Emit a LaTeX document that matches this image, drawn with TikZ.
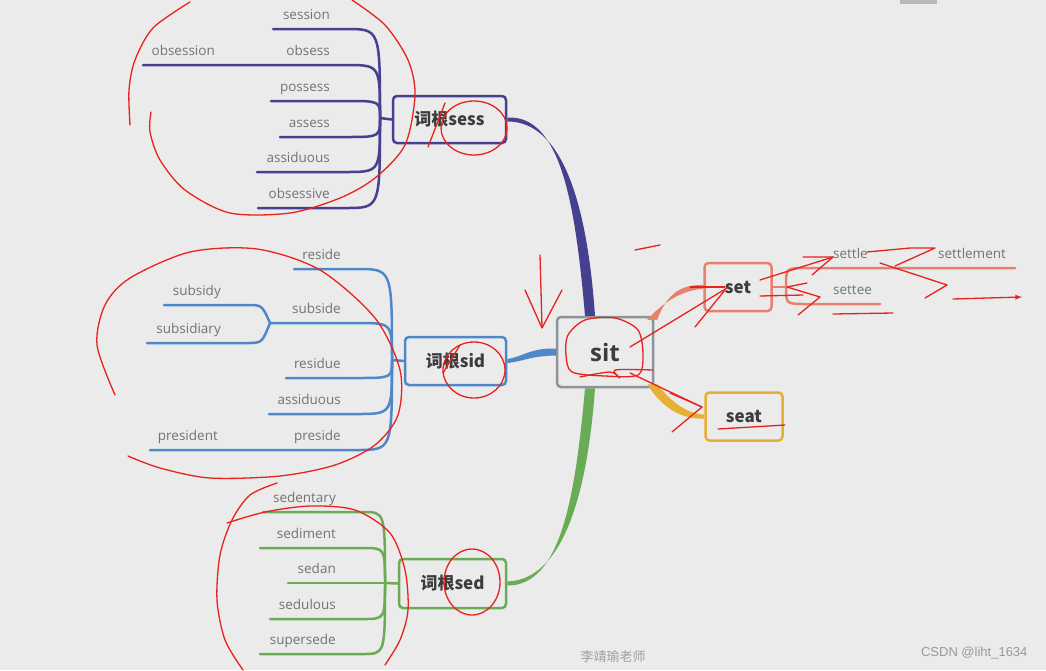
\documentclass[tikz,border=0pt]{standalone}
\usepackage{fontspec}
\setmainfont{Open Sans}
\newfontfamily\cjk{Noto Sans CJK SC}
\newfontfamily\arial{Liberation Sans}
\definecolor{nen}{HTML}{EBEBEB}
\definecolor{chu}{HTML}{3C3C3C}
\definecolor{xam}{HTML}{737373}
\definecolor{vien}{HTML}{8C939B}
\definecolor{tim}{HTML}{45408F}
\definecolor{lam}{HTML}{4F88C9}
\definecolor{luc}{HTML}{6AAC55}
\definecolor{cam}{HTML}{E8806E}
\definecolor{vang}{HTML}{E6B035}
\definecolor{but}{HTML}{E8221C}

\begin{document}
\begin{tikzpicture}[x=1pt, y=-1pt, >=latex,
    hop/.style={draw, line width=2.5pt, rounded corners=4pt, fill=nen, inner sep=0pt,
        text=chu, font=\cjk\bfseries\fontsize{17}{20}\selectfont},
    nhan/.style={text=xam, inner sep=1pt, font=\fontsize{13.5}{15}\selectfont},
    nhanh/.style={line width=2.5pt, line cap=round},
    net/.style={but, line width=1.3pt, line cap=round, line join=round}]
    % Nền
    \fill[nen] (0,0) rectangle (1046,670);
    \useasboundingbox (0,0) rectangle (1046,670);
    \fill[gray!55] (900,0) rectangle (937,4);

    % Các nút chính
    \node[hop, draw=vien, minimum width=96pt, minimum height=70pt,
        font=\bfseries\fontsize{24}{28}\selectfont] (sit) at (605,352) {sit};
    \node[hop, draw=tim, minimum width=113pt, minimum height=47pt] (sess) at (449.5,119.5) {词根sess};
    \node[hop, draw=lam, minimum width=101pt, minimum height=48pt] (sid) at (455.5,361) {词根sid};
    \node[hop, draw=luc, minimum width=107pt, minimum height=49pt] (sed) at (452.5,583.5) {词根sed};
    \node[hop, draw=cam, minimum width=67pt, minimum height=48pt] (set) at (738,287) {set};
    \node[hop, draw=vang, minimum width=77pt, minimum height=48pt] (seat) at (744,416.5) {seat};

    % Nhánh từ sit (nét thon dần)
    \fill[tim] ([xshift=-20pt]sit.north) .. controls (575,200) and (560,115) .. ([yshift=2pt]sess.east)
        -- ([yshift=-2pt]sess.east) .. controls (561,121) and (587,200) .. ([xshift=-10pt]sit.north) -- cycle;
    \fill[luc] ([xshift=-20pt]sit.south) .. controls (575,500) and (560,586) .. ([yshift=-2pt]sed.east)
        -- ([yshift=2pt]sed.east) .. controls (561,580) and (587,500) .. ([xshift=-10pt]sit.south) -- cycle;
    \fill[lam] ([yshift=3.5pt]sit.west) .. controls (530,348) and (525,356) .. ([yshift=2pt]sid.east)
        -- ([yshift=-2pt]sid.east) .. controls (525,361) and (530,356) .. ([yshift=-3.5pt]sit.west) -- cycle;
    \fill[cam] ([xshift=3pt,yshift=-4pt]sit.north east) .. controls (668,290) and (685,284.5) .. ([yshift=2pt]set.west)
        -- ([yshift=-2pt]set.west) .. controls (686,289.5) and (666,299) .. ([xshift=-7pt,yshift=-4pt]sit.north east) -- cycle;
    \fill[vang] ([xshift=-7pt,yshift=4pt]sit.south east) .. controls (664,411) and (685,419.5) .. ([yshift=-2pt]seat.west)
        -- ([yshift=2pt]seat.west) .. controls (688,414) and (672,403) .. ([xshift=3pt,yshift=4pt]sit.south east) -- cycle;

    % Gốc sess
    \coordinate (hsess) at (380,118);
    \draw[nhanh, tim] (sess.west) -- (hsess);
    \foreach \ten/\y/\x in {session/29/273, obsess/65/143, possess/101/271,
        assess/137/280, assiduous/172/257, obsessive/208/258} {
        \node[nhan, anchor=base east] (sess-\ten) at (331,\y-10) {\ten};
        \draw[nhanh, tim] (hsess) .. controls (380,\y) .. (346,\y) -- (\x,\y) coordinate (sess-\ten-e);
    }
    \node[nhan, anchor=base east] (obsession) at (216,55) {obsession};

    % Gốc sid
    \coordinate (hsid) at (392,360);
    \draw[nhanh, lam] (sid.west) -- (hsid);
    \foreach \ten/\y/\x in {reside/269/294, subside/323/270, residue/378/286,
        assiduous/414/269, preside/450/150} {
        \node[nhan, anchor=base east] (sid-\ten) at (342,\y-10) {\ten};
        \draw[nhanh, lam] (hsid) .. controls (392,\y) .. (357,\y) -- (\x,\y) coordinate (sid-\ten-e);
    }
    \node[nhan, anchor=base east] (president) at (219,440) {president};
    \foreach \ten/\y/\x in {subsidy/305/164, subsidiary/343/147} {
        \node[nhan, anchor=base east] (sid-\ten) at (222,\y-10) {\ten};
        \draw[nhanh, lam] (sid-subside-e) .. controls (262,\y) .. (247,\y) -- (\x,\y) coordinate (sid-\ten-e);
    }

    % Gốc sed
    \coordinate (hsed) at (385,583);
    \draw[nhanh, luc] (sed.west) -- (hsed);
    \foreach \ten/\y/\x in {sedentary/512/263, sediment/548/260, sedan/583/288,
        sedulous/619/270, supersede/654/260} {
        \node[nhan, anchor=base east] (sed-\ten) at (337,\y-10) {\ten};
        \draw[nhanh, luc] (hsed) .. controls (385,\y) .. (363,\y) -- (\x,\y) coordinate (sed-\ten-e);
    }

    % Nhánh set
    \coordinate (hset) at (786,287);
    \draw[nhanh, cam] (set.east) -- (hset);
    \draw[nhanh, cam] (hset) .. controls (786,268) .. (806,268) -- (1015,268) coordinate (settle-e);
    \draw[nhanh, cam] (hset) .. controls (786,304) .. (806,304) -- (880,304) coordinate (settee-e);
    \node[nhan, anchor=base west] (settle) at (832,258) {settle};
    \node[nhan, anchor=base west] (settlement) at (937,258) {settlement};
    \node[nhan, anchor=base west] (settee) at (832,294) {settee};

    % Chữ ký
    \node[text=gray!75, font=\cjk\fontsize{13}{15}\selectfont] (tacgia) at (613,657) {李靖瑜老师};
    \node[text=gray!80, anchor=east, font=\arial\fontsize{13}{15}\selectfont] (csdn) at (1031,653) {CSDN @liht\_1634};

    % Nét bút đỏ
    \draw[net] plot[smooth] coordinates {(130,125) (129,90) (135,60) (153,28) (190,2)};
    \draw[net] plot[smooth] coordinates {(352,0) (385,25) (408,60) (415,95) (405,145) (375,178)
        (340,198) (290,213) (230,213) (185,190) (160,160) (150,132) (151,112)};
    \draw[net] (474,128) ellipse [x radius=33pt, y radius=27pt];
    \draw[net] (428,147) -- (445,103);
    \draw[net] plot[smooth] coordinates {(115,395) (97,345) (105,305) (130,278) (190,252) (257,249)
        (320,270) (375,318) (400,370) (398,415) (375,445) (335,465) (280,476) (210,478) (160,468) (128,456)};
    \draw[net] (474,370) ellipse [x radius=31pt, y radius=28pt];
    \draw[net] (443,373) -- (460,345);
    \draw[net] plot[smooth] coordinates {(277,483) (250,495) (232,520) (220,555) (217,600) (225,640) (243,670)};
    \draw[net] plot[smooth] coordinates {(227,523) (265,512) (310,506) (355,510) (390,533) (405,570)
        (408,610) (400,640) (385,665)};
    \draw[net] (472,582) ellipse [x radius=28pt, y radius=33pt];
    \draw[net] plot[smooth cycle] coordinates {(568,335) (585,320) (615,318) (638,330) (643,355)
        (638,375) (605,376) (572,372) (566,355)};
    \draw[net] plot[smooth] coordinates {(580,377) (610,372) (620,378) (615,370) (653,370)};
    \draw[net] (630,347) -- (727,288);
    \draw[net] (690,287) -- (725,287);
    \draw[net] (695,327) -- (725,290);
    \draw[net] (630,373) -- (702,407);
    \draw[net] (670,393) -- (702,407) -- (672,432);
    \draw[net] (718,429) -- (785,425);
    \draw[net] (540,255) -- (542,327);
    \draw[net] (525,290) -- (542,328) -- (562,290);
    \draw[net] (635,250) -- (660,245);
    \draw[net] (760,280) -- (833,257);
    \draw[net] (803,257) -- (833,257) -- (812,275);
    \draw[net] (760,296) -- (803,295);
    \draw[net] (807,283) -- (787,287) -- (820,297) -- (798,315);
    \draw[net] (867,252) -- (910,248) -- (935,248) -- (895,266);
    \draw[net] (880,263) -- (947,285) -- (925,298);
    \draw[net, ->] (953,299) -- (1022,297);
    \draw[net] (833,314) -- (893,313);
\end{tikzpicture}
\end{document}
